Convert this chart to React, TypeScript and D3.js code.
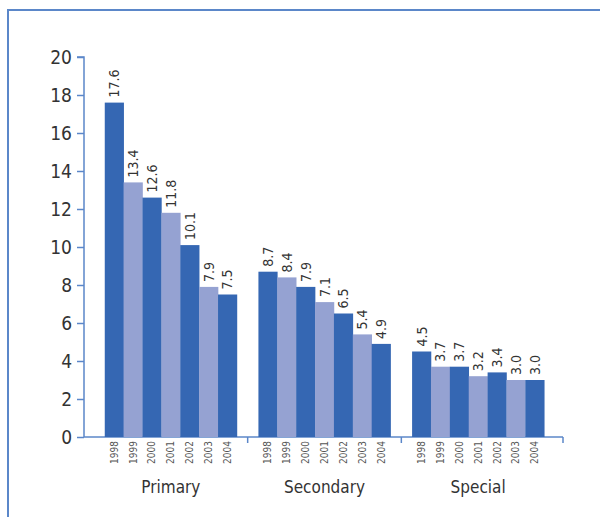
import { useEffect, useRef } from "react";
import * as d3 from "d3";

const groups = ["Primary", "Secondary", "Special"];
const years = ["1998", "1999", "2000", "2001", "2002", "2003", "2004"];
const primary = [17.6, 13.4, 12.6, 11.8, 10.1, 7.9, 7.5];
const secondary = [8.7, 8.4, 7.9, 7.1, 6.5, 5.4, 4.9];
const special = [4.5, 3.7, 3.7, 3.2, 3.4, 3.0, 3.0];
const yTicks = [0, 2, 4, 6, 8, 10, 12, 14, 16, 18, 20];

const seriesByGroup = [primary, secondary, special];
const dark = "#3567b3";
const light = "#95a2d2";
const axisColor = "#5b87c9";
const font = "'DejaVu Sans Condensed', 'DejaVu Sans', sans-serif";

export default function App() {
  const width = 600;
  const height = 517;
  const ref = useRef(null);

  useEffect(() => {
    ref.current.innerHTML = "";
    const svg = d3.select(ref.current);

    // frame (only top and left visible)
    svg
      .append("rect")
      .attr("x", 8)
      .attr("y", 10)
      .attr("width", 700)
      .attr("height", 700)
      .attr("fill", "none")
      .attr("stroke", axisColor)
      .attr("stroke-width", 2);

    const x0 = d3.scaleBand().domain(groups).range([94, 555]).paddingInner(0);
    const x1 = d3
      .scaleBand()
      .domain(years)
      .range([0, x0.bandwidth()])
      .paddingOuter(0.57)
      .paddingInner(0);
    const y = d3.scaleLinear().domain([0, 20]).range([437, 57]);

    const styleText = (sel, size) =>
      sel
        .style("font-family", font)
        .style("font-stretch", "condensed")
        .style("font-size", size);

    // y axis
    svg
      .append("g")
      .attr("transform", "translate(84,0)")
      .call(d3.axisLeft(y).tickValues(yTicks).tickSize(7).tickPadding(5))
      .call((g) => g.select(".domain").attr("stroke", axisColor).attr("stroke-width", 1.5).attr("d", `M-7,${y(20)}H0V${y(0)}`))
      .call((g) => g.selectAll(".tick line").attr("stroke", axisColor).attr("stroke-width", 1.5))
      .call((g) => styleText(g.selectAll(".tick text").attr("fill", "#333"), "19px"));

    // x axis baseline and group separators
    const xa = svg.append("g");
    xa.append("line")
      .attr("x1", 84)
      .attr("x2", 563)
      .attr("y1", y(0))
      .attr("y2", y(0))
      .attr("stroke", axisColor)
      .attr("stroke-width", 1.5);
    const seps = groups.slice(1).map((gname) => x0(gname) as number).concat([563]);
    xa.selectAll("line.sep")
      .data(seps)
      .enter()
      .append("line")
      .attr("class", "sep")
      .attr("x1", (d) => d)
      .attr("x2", (d) => d)
      .attr("y1", y(0))
      .attr("y2", y(0) + 6)
      .attr("stroke", axisColor)
      .attr("stroke-width", 1.5);

    groups.forEach((gname, gi) => {
      const data = years.map((yr, i) => ({ yr, i, v: seriesByGroup[gi][i] }));
      const g = svg.append("g").attr("transform", `translate(${x0(gname)},0)`);

      g.selectAll("rect")
        .data(data)
        .enter()
        .append("rect")
        .attr("x", (d) => x1(d.yr))
        .attr("y", (d) => y(d.v))
        .attr("width", x1.bandwidth() + 0.3)
        .attr("height", (d) => y(0) - y(d.v))
        .attr("fill", (d) => (d.i % 2 === 0 ? dark : light));

      // value labels
      styleText(
        g
          .selectAll("text.val")
          .data(data)
          .enter()
          .append("text")
          .attr("class", "val")
          .attr(
            "transform",
            (d) => `translate(${(x1(d.yr) as number) + x1.bandwidth() / 2 + 5},${y(d.v) - 5}) rotate(-90)`,
          )
          .attr("fill", "#333")
          .text((d) => d.v.toFixed(1)),
        "14px",
      );

      // year labels
      styleText(
        g
          .selectAll("text.yr")
          .data(data)
          .enter()
          .append("text")
          .attr("class", "yr")
          .attr(
            "transform",
            (d) => `translate(${(x1(d.yr) as number) + x1.bandwidth() / 2 + 3.5},${y(0) + 4}) rotate(-90)`,
          )
          .attr("text-anchor", "end")
          .attr("fill", "#555")
          .text((d) => d.yr),
        "10px",
      );

      // group label
      styleText(
        g
          .append("text")
          .attr("x", x0.bandwidth() / 2)
          .attr("y", 493)
          .attr("text-anchor", "middle")
          .attr("fill", "#333")
          .text(gname),
        "17px",
      );
    });
  }, []);

  return (
    <svg
      ref={ref}
      width={width}
      height={height}
      style={{ position: "absolute", left: 0, top: 0 }}
    />
  );
}
